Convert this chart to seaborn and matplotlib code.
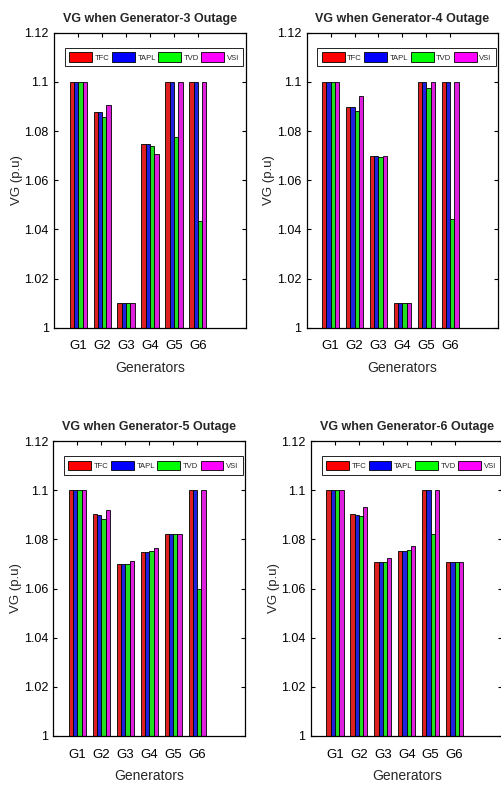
import matplotlib
matplotlib.use("Agg")
import matplotlib.pyplot as plt
import pandas as pd
import seaborn as sns
from matplotlib import font_manager
from matplotlib.patches import Patch

GENERATORS = ["G1", "G2", "G3", "G4", "G5", "G6"]
METHODS = ["TFC", "TAPL", "TVD", "VSI"]
COLORS = ["#ff0000", "#0000ff", "#00ff00", "#ff00ff"]
Y_TICKS = [1, 1.02, 1.04, 1.06, 1.08, 1.1, 1.12]
Y_TICK_LABELS = ["1", "1.02", "1.04", "1.06", "1.08", "1.1", "1.12"]

# rows: TFC, TAPL, TVD, VSI
VG_OUT3 = [
    [1.100, 1.0876, 1.0100, 1.0747, 1.100, 1.100],
    [1.100, 1.0876, 1.0100, 1.0747, 1.100, 1.100],
    [1.100, 1.0857, 1.0100, 1.0739, 1.0777, 1.0433],
    [1.100, 1.0906, 1.0100, 1.0706, 1.100, 1.100],
]
VG_OUT4 = [
    [1.100, 1.0897, 1.0697, 1.0100, 1.100, 1.100],
    [1.100, 1.0897, 1.0697, 1.0100, 1.100, 1.100],
    [1.100, 1.0880, 1.0695, 1.0100, 1.0974, 1.0441],
    [1.100, 1.0944, 1.0697, 1.0100, 1.100, 1.100],
]
VG_OUT5 = [
    [1.100, 1.0902, 1.0699, 1.0748, 1.0821, 1.100],
    [1.100, 1.0898, 1.0699, 1.0749, 1.0821, 1.100],
    [1.100, 1.0884, 1.0699, 1.0752, 1.0821, 1.0600],
    [1.100, 1.0918, 1.0711, 1.0765, 1.0821, 1.100],
]
VG_OUT6 = [
    [1.100, 1.0902, 1.0707, 1.0753, 1.100, 1.0709],
    [1.100, 1.0899, 1.0707, 1.0753, 1.100, 1.0709],
    [1.100, 1.0894, 1.0708, 1.0756, 1.0821, 1.0709],
    [1.100, 1.0931, 1.0723, 1.0772, 1.100, 1.0709],
]
TITLES = [
    "VG when Generator-3 Outage",
    "VG when Generator-4 Outage",
    "VG when Generator-5 Outage",
    "VG when Generator-6 Outage",
]
PANELS = [VG_OUT3, VG_OUT4, VG_OUT5, VG_OUT6]

installed = {f.name for f in font_manager.fontManager.ttflist}
NARROW = "Liberation Sans Narrow" if "Liberation Sans Narrow" in installed else "Liberation Sans"

sns.set_style("ticks")
plt.rcParams["font.family"] = [NARROW, "DejaVu Sans"]

W, H = 502, 787
# axes boxes in pixels: left, top, right, bottom
BOXES = [
    (54.3, 32.7, 245.7, 327.7),
    (306.7, 32.7, 498.0, 327.7),
    (53.5, 441.0, 245.0, 736.0),
    (311.0, 441.0, 502.5, 736.0),
]


def to_frame(values):
    rows = []
    for method, series in zip(METHODS, values):
        for gen, v in zip(GENERATORS, series):
            rows.append({"Generator": gen, "Method": method, "VG": v})
    return pd.DataFrame(rows)


def draw_panel(ax, values, title):
    df = to_frame(values)
    sns.barplot(
        data=df, x="Generator", y="VG", hue="Method", order=GENERATORS,
        hue_order=METHODS, palette=COLORS, width=0.72, gap=0,
        edgecolor="black", linewidth=0.6, legend=False, ax=ax,
    )
    ax.set_xlim(-1, 7)
    ax.set_ylim(1, 1.12)
    ax.set_yticks(Y_TICKS)
    ax.set_yticklabels(Y_TICK_LABELS)
    ax.tick_params(direction="in", length=3, width=0.8, top=True, right=True,
                   labelsize=9, pad=4, colors="black")
    ax.tick_params(axis="x", labelsize=9.5, pad=9)
    for side in ax.spines.values():
        side.set_visible(True)
        side.set_linewidth(0.9)
        side.set_color("black")
    ax.set_xlabel("Generators", fontsize=10, labelpad=6)
    ax.set_ylabel("VG (p.u)", fontsize=9.5, labelpad=1)
    ax.set_title(title, fontsize=9, fontweight="bold", pad=8)
    handles = [Patch(facecolor=c, edgecolor="black", linewidth=0.6) for c in COLORS]
    ax.legend(
        handles, METHODS, ncol=4, loc="upper left", bbox_to_anchor=(0.056, 0.948),
        fontsize=5.5, handlelength=3.0, handleheight=1.6, handletextpad=0.35,
        columnspacing=0.3, borderpad=0.55, borderaxespad=0, frameon=True,
        fancybox=False, edgecolor="black", framealpha=1,
    ).get_frame().set_linewidth(0.6)


fig = plt.figure(figsize=(W / 100, H / 100), dpi=100)
for (l, t, r, b), values, title in zip(BOXES, PANELS, TITLES):
    ax = fig.add_axes([l / W, 1 - b / H, (r - l) / W, (b - t) / H])
    draw_panel(ax, values, title)

fig.savefig("out.png", dpi=100)
